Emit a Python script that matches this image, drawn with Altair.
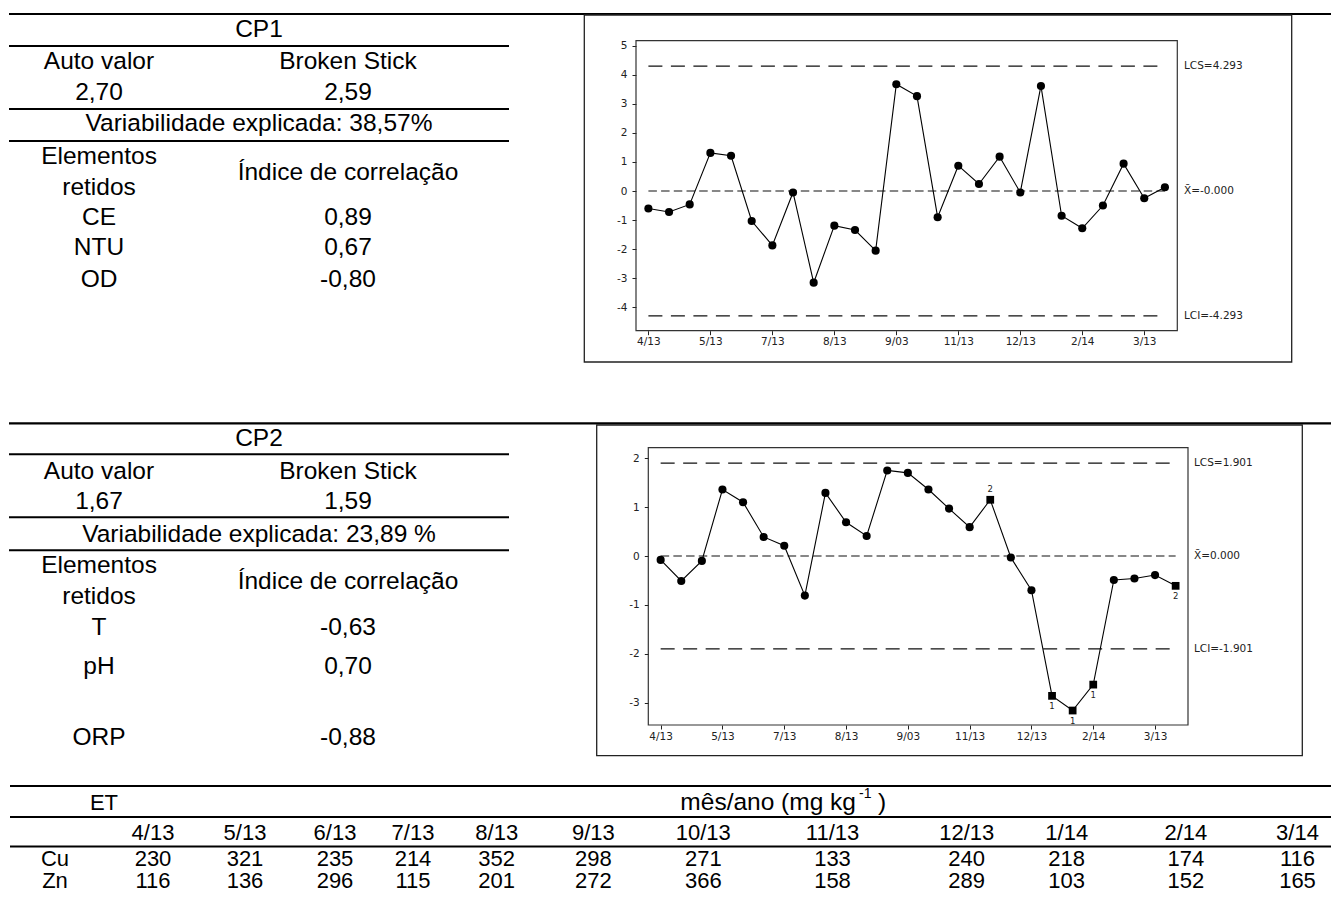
import altair as alt
import pandas as pd

# ---------------- data ----------------
sample_index = list(range(1, 27))
cp1_scores = [-0.60, -0.72, -0.46, 1.31, 1.21, -1.03, -1.87, -0.05, -3.15, -1.19,
              -1.34, -2.05, 3.67, 3.26, -0.90, 0.87, 0.24, 1.18, -0.05, 3.61,
              -0.85, -1.28, -0.50, 0.94, -0.25, 0.13]
cp2_scores = [-0.08, -0.51, -0.10, 1.36, 1.10, 0.39, 0.21, -0.81, 1.29, 0.69,
              0.41, 1.75, 1.70, 1.36, 0.97, 0.59, 1.15, -0.03, -0.70, -2.86,
              -3.16, -2.63, -0.49, -0.46, -0.39, -0.61]
cp1_flags = [""] * 26
cp2_flags = ["", "", "", "", "", "", "", "", "", "", "", "", "", "", "", "",
             "2", "", "", "1", "1", "1", "", "", "", "2"]
tick_obs = [1, 4, 7, 10, 13, 16, 19, 22, 25]
tick_labels = ["4/13", "5/13", "7/13", "8/13", "9/03", "11/13", "12/13", "2/14", "3/13"]
cp1_limits = [4.293, 0.0, -4.293]
cp1_limit_labels = ["LCS=4.293", "X\u0304=-0.000", "LCI=-4.293"]
cp2_limits = [1.901, 0.0, -1.901]
cp2_limit_labels = ["LCS=1.901", "X\u0304=0.000", "LCI=-1.901"]
limit_kinds = ["limit", "center", "limit"]
cp1_y_ticks = [-4, -3, -2, -1, 0, 1, 2, 3, 4, 5]
cp2_y_ticks = [-3, -2, -1, 0, 1, 2]

cp1_title = "CP1"
cp1_heads = ["Auto valor", "Broken Stick"]
cp1_vals = ["2,70", "2,59"]
cp1_var = "Variabilidade explicada: 38,57%"
cp1_elements = ["CE", "NTU", "OD"]
cp1_corr = ["0,89", "0,67", "-0,80"]

cp2_title = "CP2"
cp2_heads = ["Auto valor", "Broken Stick"]
cp2_vals = ["1,67", "1,59"]
cp2_var = "Variabilidade explicada: 23,89 %"
cp2_elements = ["T", "pH", "ORP"]
cp2_corr = ["-0,63", "0,70", "-0,88"]

elem_head = ["Elementos", "retidos"]
corr_head = "Índice de correlação"

et_head = "ET"
month_head = ["mês/ano (mg kg", "-1", ")"]
months = ["4/13", "5/13", "6/13", "7/13", "8/13", "9/13", "10/13", "11/13",
          "12/13", "1/14", "2/14", "3/14"]
metals = ["Cu", "Zn"]
cu_vals = [230, 321, 235, 214, 352, 298, 271, 133, 240, 218, 174, 116]
zn_vals = [116, 136, 296, 115, 201, 272, 366, 158, 289, 103, 152, 165]

# ---------------- layout ----------------
W, H = 1323, 885
M = 8
def px(v): return v - M
def py(v): return v - M

TFONT = "Liberation Sans, Arial, sans-serif"
CFONT = "DejaVu Sans, Tahoma, sans-serif"
INK = "#222222"
DUMMY = alt.Data(values=[{"d": 0}])
layers = []

def hrule(y, x1, x2, w=2.0):
    layers.append(alt.Chart(DUMMY).mark_rule(color="black", strokeWidth=w).encode(
        x=alt.value(px(x1)), x2=alt.value(px(x2)), y=alt.value(py(y))))

def box(x1, y1, x2, y2, w, color):
    layers.append(alt.Chart(DUMMY).mark_rect(fillOpacity=0, stroke=color, strokeWidth=w).encode(
        x=alt.value(px(x1)), x2=alt.value(px(x2)), y=alt.value(py(y1)), y2=alt.value(py(y2))))

# table rules
for y, x1, x2, w in [(14, 9, 1331, 2.2), (46, 9, 509, 2), (109, 9, 509, 2), (141, 9, 509, 2),
                     (423.3, 9, 1331, 2.2), (454.3, 9, 509, 2), (517.3, 9, 509, 2), (550.3, 9, 509, 2),
                     (786, 10, 1331, 2), (817, 10, 1331, 2), (846.5, 10, 1331, 2)]:
    hrule(y, x1, x2, w)

COL_A, COL_B, COL_S = 0.18, 0.678, 0.5

def pca_table(title, heads, vals, var, elements, corr, rows, y0, step):
    recs = [(title, COL_S, rows["title"]),
            (heads[0], COL_A, rows["head"]), (heads[1], COL_B, rows["head"]),
            (vals[0], COL_A, rows["val"]), (vals[1], COL_B, rows["val"]),
            (var, COL_S, rows["var"]),
            (elem_head[0], COL_A, rows["elem"]), (elem_head[1], COL_A, rows["ret"]),
            (corr_head, COL_B, rows["idx"])]
    for e, c, r in zip(elements, corr, rows["items"]):
        recs.append((e, COL_A, r))
        recs.append((c, COL_B, r))
    df = pd.DataFrame(recs, columns=["text", "c", "r"])
    xs = alt.Scale(domain=[0, 1], range=[px(9), px(509)], nice=False, zero=False)
    ys = alt.Scale(domain=[0, 10], range=[py(y0), py(y0 + 10 * step)], nice=False, zero=False)
    layers.append(alt.Chart(df).mark_text(font=TFONT, fontSize=24.5, color="black",
                                          align="center", baseline="middle").encode(
        x=alt.X("c:Q", scale=xs, axis=None), y=alt.Y("r:Q", scale=ys, axis=None), text="text:N"))

pca_table(cp1_title, cp1_heads, cp1_vals, cp1_var, cp1_elements, cp1_corr,
          dict(title=0, head=1.03, val=2.03, var=3.02, elem=4.08, ret=5.08, idx=4.6,
               items=[6.05, 7.01, 8.04]), 30, 31.1)
pca_table(cp2_title, cp2_heads, cp2_vals, cp2_var, cp2_elements, cp2_corr,
          dict(title=0, head=1.02, val=1.96, var=3.01, elem=3.97, ret=4.97, idx=4.48,
               items=[5.94, 7.15, 9.40]), 439.3, 31.8)

# bottom table
col_px = [55, 153, 245, 335, 413, 496.7, 593.3, 703.3, 832.5, 966.7, 1066.7, 1185.8, 1297.5]
recs = [(et_head, 0.5, 0)]
for i, m in enumerate(months):
    recs.append((m, i + 1, 1))
    recs.append((str(cu_vals[i]), i + 1, 2))
    recs.append((str(zn_vals[i]), i + 1, 3))
recs.append((metals[0], 0, 2))
recs.append((metals[1], 0, 3))
bdf = pd.DataFrame(recs, columns=["text", "c", "r"])
bxs = alt.Scale(domain=list(range(13)), range=[px(v) for v in col_px], nice=False, zero=False)
bys = alt.Scale(domain=[0, 1, 2, 3], range=[py(802.5), py(832.5), py(858.5), py(881)],
                nice=False, zero=False)
layers.append(alt.Chart(bdf).mark_text(font=TFONT, fontSize=22, color="black",
                                       align="center", baseline="middle").encode(
    x=alt.X("c:Q", scale=bxs, axis=None), y=alt.Y("r:Q", scale=bys, axis=None), text="text:N"))
for txt, x, y, size, align in [(month_head[0], 856, 802.5, 24.5, "right"),
                               (month_head[1], 859, 794, 14, "left"),
                               (month_head[2], 878, 802.5, 24.5, "left")]:
    layers.append(alt.Chart(alt.Data(values=[{"t": txt}])).mark_text(
        font=TFONT, fontSize=size, color="black", align=align, baseline="middle").encode(
        x=alt.value(px(x)), y=alt.value(py(y)), text="t:N"))

# ---------------- control charts ----------------
label_expr = "[" + ",".join("'%s'" % t for t in tick_labels) + "][round((datum.value - 1) / 3)]"

def control_chart(scores, flags, limits, limit_labels, y_ticks, frame, plot, ydom, label_x, above):
    box(*frame, 1.3, "#222222")
    x0, y0, x1, y1 = plot
    box(x0, y0, x1, y1, 1.2, "#333333")
    xs = alt.Scale(domain=[0.4, 26.6], range=[px(x0), px(x1)], nice=False, zero=False)
    ys = alt.Scale(domain=ydom, range=[py(y1), py(y0)], nice=False, zero=False)
    df = pd.DataFrame({"obs": sample_index, "score": scores, "flag": flags})
    df["above"] = [o in above for o in sample_index]
    ldf = pd.DataFrame({"value": limits, "label": limit_labels, "kind": limit_kinds,
                        "start": [min(sample_index)] * 3, "end": [max(sample_index)] * 3})
    xaxis = alt.Axis(orient="bottom", offset=py(y1) - H, values=tick_obs, labelExpr=label_expr,
                     grid=False, domain=False, ticks=True, tickSize=4, tickColor=INK,
                     labelColor=INK, labelFont=CFONT, labelFontSize=10.5, labelPadding=2,
                     labelOverlap=False, labelFlush=False, title="")
    yaxis = alt.Axis(orient="left", offset=-px(x0), values=y_ticks, labelExpr="datum.value + ''",
                     grid=False, domain=False, ticks=True, tickSize=4, tickColor=INK,
                     labelColor=INK, labelFont=CFONT, labelFontSize=10.5, labelPadding=5,
                     labelOverlap=False, labelFlush=False, title="")
    X = lambda f: alt.X(f, scale=xs, axis=None)
    Y = lambda f: alt.Y(f, scale=ys, axis=None)
    lbase = alt.Chart(ldf)
    layers.append(lbase.transform_filter("datum.kind == 'limit'").mark_rule(
        color="#111111", strokeWidth=1.2, strokeDash=[14, 8.5]).encode(
        x=X("start:Q"), x2="end:Q", y=Y("value:Q")))
    layers.append(lbase.transform_filter("datum.kind == 'center'").mark_rule(
        color="#111111", strokeWidth=1.2, strokeDash=[8.5, 4.2]).encode(
        x=X("start:Q"), x2="end:Q", y=Y("value:Q")))
    layers.append(lbase.mark_text(font=CFONT, fontSize=10.5, color=INK, align="left",
                                  baseline="middle").encode(
        x=alt.value(px(label_x)), y=Y("value:Q"), text="label:N"))
    base = alt.Chart(df)
    layers.append(base.mark_line(color="black", strokeWidth=1.1).encode(
        x=alt.X("obs:Q", scale=xs, axis=xaxis), y=alt.Y("score:Q", scale=ys, axis=yaxis)))
    layers.append(base.transform_filter("datum.flag == ''").mark_point(
        filled=True, shape="circle", size=66, color="black", opacity=1).encode(
        x=X("obs:Q"), y=Y("score:Q")))
    layers.append(base.transform_filter("datum.flag != ''").mark_point(
        filled=True, shape="square", size=60, color="black", opacity=1).encode(
        x=X("obs:Q"), y=Y("score:Q")))
    layers.append(base.transform_filter("datum.flag != '' && datum.above").mark_text(
        font=CFONT, fontSize=8.5, color=INK, dy=-11, baseline="middle").encode(
        x=X("obs:Q"), y=Y("score:Q"), text="flag:N"))
    layers.append(base.transform_filter("datum.flag != '' && !datum.above").mark_text(
        font=CFONT, fontSize=8.5, color=INK, dy=10, baseline="middle").encode(
        x=X("obs:Q"), y=Y("score:Q"), text="flag:N"))

control_chart(cp1_scores, cp1_flags, cp1_limits, cp1_limit_labels, cp1_y_ticks,
              (584.3, 15, 1291.7, 362), (636, 40.7, 1177.3, 330.7), [-4.80, 5.165], 1184, [])
control_chart(cp2_scores, cp2_flags, cp2_limits, cp2_limit_labels, cp2_y_ticks,
              (596.7, 425, 1302.3, 755.7), (648.3, 447.7, 1188, 725), [-3.456, 2.215], 1194, [17])

chart = alt.layer(*layers).resolve_scale(x="independent", y="independent").properties(
    width=W, height=H, padding=0,
    autosize=alt.AutoSizeParams(type="none")).configure_view(strokeWidth=0)

chart.save("out.html", embed_options={"renderer": "svg", "actions": False})
